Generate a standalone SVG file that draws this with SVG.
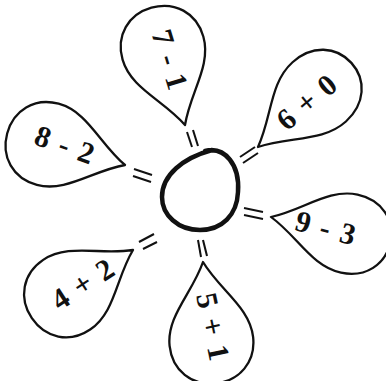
<svg xmlns="http://www.w3.org/2000/svg" xmlns:xlink="http://www.w3.org/1999/xlink" width="386" height="381" viewBox="0 0 386 381">
<style>
.petal{fill:#fff;stroke:#111;stroke-width:2.3;stroke-linejoin:round}
.lbl{font-family:"Liberation Serif","Times New Roman",serif;font-weight:bold;font-size:30px;fill:#111;text-anchor:middle;letter-spacing:1px;word-spacing:1px}
.eq{stroke:#111;stroke-width:2;stroke-linecap:butt}
.hub{fill:none;stroke:#111;stroke-width:4.5;stroke-linecap:round}
</style>
<defs>
<path id="petal" d="M0,0 C30,-14 50,-42 80,-42 C105,-42 122,-24 122,0 C122,24 105,42 80,42 C50,42 30,14 0,0 Z"/>
</defs>
<rect width="386" height="381" fill="#fff"/>
<g id="connectors">
<line class="eq" x1="134" y1="169" x2="152" y2="175"/>
<line class="eq" x1="133" y1="176" x2="151" y2="182"/>
<line class="eq" x1="187" y1="132" x2="192" y2="147"/>
<line class="eq" x1="193" y1="130" x2="198" y2="146"/>
<line class="eq" x1="240" y1="157" x2="255" y2="147"/>
<line class="eq" x1="243" y1="163" x2="258" y2="153"/>
<line class="eq" x1="244" y1="208" x2="263" y2="212"/>
<line class="eq" x1="244" y1="215" x2="263" y2="219"/>
<line class="eq" x1="139" y1="242" x2="154" y2="234"/>
<line class="eq" x1="143" y1="249" x2="157" y2="242"/>
<line class="eq" x1="198" y1="240" x2="201" y2="257"/>
<line class="eq" x1="203" y1="240" x2="207" y2="256"/>
</g>
<g id="hub">
<path class="hub" d="M205,151 C225,146 240,165 238,192 C237,215 222,230 200,230 C178,230 162,215 162,197 C162,175 183,158 212,150"/>
</g>
<g id="petal-7-1">
<use xlink:href="#petal" class="petal" transform="translate(185,125) rotate(-106)"/>
<text class="lbl" transform="translate(170,60) rotate(73)" y="10">7 - 1</text>
</g>
<g id="petal-8-2">
<use xlink:href="#petal" class="petal" transform="translate(125,165) rotate(-165)"/>
<text class="lbl" transform="translate(65,145) rotate(20)" y="10">8 - 2</text>
</g>
<g id="petal-6-0">
<use xlink:href="#petal" class="petal" transform="translate(258,147) rotate(-42) scale(1.03,0.95)"/>
<text class="lbl" transform="translate(307,102) rotate(-40)" y="10">6 + 0</text>
</g>
<g id="petal-9-3">
<use xlink:href="#petal" class="petal" transform="translate(271,217) rotate(12) scale(1,0.95)"/>
<text class="lbl" transform="translate(326,228) rotate(15)" y="10">9 - 3</text>
</g>
<g id="petal-5-1">
<use xlink:href="#petal" class="petal" transform="translate(203,262) rotate(84)"/>
<text class="lbl" transform="translate(213,327) rotate(78)" y="10">5 + 1</text>
</g>
<g id="petal-4-2">
<use xlink:href="#petal" class="petal" transform="translate(133,250) rotate(146)"/>
<text class="lbl" transform="translate(83,284) rotate(-33)" y="10">4 + 2</text>
</g>
</svg>
